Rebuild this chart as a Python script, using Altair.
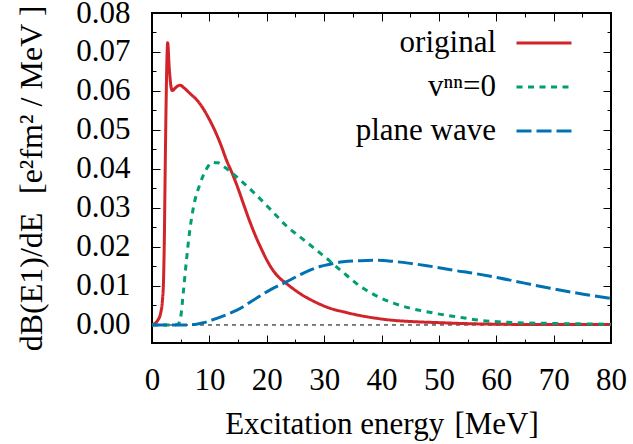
import altair as alt
import pandas as pd

# ---------------- data ----------------
series_names = ["original", "v\u207f\u207f=0", "plane wave"]

red_E = [0, 0.5, 1.0, 1.5, 1.8, 2.0, 2.15, 2.3, 2.45, 2.6, 2.73, 3.0, 3.3, 3.55, 4.0, 4.5,
         4.9, 5.5, 6.6, 8.0, 9.0, 10.0, 11.0, 12.0, 13.0, 14.0, 15.0, 16.0, 17.0, 18.0,
         19.0, 20.0, 21.1, 22.2, 23.2, 24.5, 26.4, 27.5, 29.3, 31.0, 33.3, 36.0, 39.2,
         42.0, 45.0, 50.0, 53.7, 60.0, 70.0, 80.0]
red_v = [0.0, 0.0004, 0.0012, 0.003, 0.006, 0.011, 0.022, 0.040, 0.056, 0.068, 0.0724,
         0.066, 0.0612, 0.0601, 0.0607, 0.0613, 0.0615, 0.0609, 0.0594, 0.0574, 0.0553,
         0.0527, 0.0497, 0.0462, 0.0422, 0.0388, 0.0350, 0.0308, 0.0267, 0.0230, 0.0197,
         0.0167, 0.0140, 0.0121, 0.0109, 0.0094, 0.0075, 0.0066, 0.0053, 0.0043, 0.0034,
         0.0025, 0.0017, 0.0012, 0.0009, 0.0006, 0.0004, 0.0002, 0.0001, 0.0001]

green_E = [0, 4.0, 4.6, 5.0, 5.5, 6.0, 6.6, 7.2, 8.4, 9.5, 10.5, 11.5, 12.5, 13.6, 15.5,
           17.7, 20.6, 23.5, 26.4, 29.0, 31.0, 32.0, 33.3, 36.3, 39.2, 42.1, 45.0, 47.9,
           50.8, 53.1, 57.2, 63.6, 69.4, 80.0]
green_v = [0, 0, 0.0003, 0.002, 0.009, 0.0165, 0.0244, 0.0300, 0.0363, 0.0400, 0.0417,
           0.0416, 0.0406, 0.0394, 0.0370, 0.0340, 0.0297, 0.0253, 0.0219, 0.0188, 0.0164,
           0.0151, 0.0135, 0.0099, 0.0074, 0.0056, 0.0043, 0.0034, 0.0026, 0.0021, 0.0012,
           0.0006, 0.0004, 0.0002]

blue_E = [0, 5, 7.2, 9, 11.3, 13.6, 14.8, 17.7, 20.6, 23.5, 26.4, 29.3, 30.4, 33.3, 36.3,
          39.2, 42.1, 45.0, 47.9, 50.8, 53.1, 55.4, 60.1, 64.7, 69.4, 75.2, 80.0]
blue_v = [0, 0, 0.0001, 0.0006, 0.0017, 0.0030, 0.0038, 0.0064, 0.0090, 0.0111, 0.0133,
          0.0150, 0.0154, 0.0162, 0.0165, 0.0166, 0.0163, 0.0158, 0.0152, 0.0145, 0.0139,
          0.0134, 0.0122, 0.0108, 0.0094, 0.0079, 0.0068]

zero_E = [0, 80]
zero_v = [0, 0]

x_major = [0, 10, 20, 30, 40, 50, 60, 70, 80]
x_minor = [5, 15, 25, 35, 45, 55, 65, 75]
y_major = [0.00, 0.01, 0.02, 0.03, 0.04, 0.05, 0.06, 0.07, 0.08]
y_minor = [0.005, 0.015, 0.025, 0.035, 0.045, 0.055, 0.065, 0.075]

colors = ["#d1232a", "#009e73", "#0072b2"]
dashes = [[1, 0], [6, 5.5], [15, 5]]

# ---------------- tables ----------------
rows = []
for name, es, vs in zip(series_names, [red_E, green_E, blue_E], [red_v, green_v, blue_v]):
    for e, v in zip(es, vs):
        rows.append({"E": e, "v": v, "series": name})
df = pd.DataFrame(rows)
zero_df = pd.DataFrame({"E": zero_E, "v": zero_v})

W, H = 459, 330
FONT = "Liberation Serif"
FS = 31
xscale = alt.Scale(domain=[0, 80], nice=False, zero=False)
yscale = alt.Scale(domain=[-0.00462, 0.08], nice=False, zero=False)

x_title = "Excitation energy\u2004[MeV]"
y_title = "dB(E1)/dE\u2004 [e\u00b2fm\u00b2 / MeV ]"


def tick_axis(orient, values, size, offset):
    return alt.Axis(orient=orient, values=values, tickSize=size, offset=offset,
                    labels=False, domain=False, grid=False, title=None,
                    ticks=True, tickColor="black", tickWidth=1)


# zero dashed line + label/title axes
zero_layer = alt.Chart(zero_df).mark_line(
    color="black", strokeWidth=1, strokeDash=[4, 4]
).encode(
    x=alt.X("E:Q", scale=xscale, axis=alt.Axis(
        orient="bottom", values=x_major, ticks=False, tickSize=0, domain=False, grid=False,
        labelFlush=False, labelOverlap=False,
        labelFont=FONT, labelFontSize=FS, labelColor="black", labelPadding=22,
        title=x_title, titleFont=FONT, titleFontSize=FS, titleFontWeight="normal",
        titleColor="black", titleBaseline="alphabetic", titleY=90)),
    y=alt.Y("v:Q", scale=yscale, axis=alt.Axis(
        orient="left", values=y_major, format=".2f", ticks=False, tickSize=0,
        domain=False, grid=False, labelFlush=False, labelOverlap=False,
        labelFont=FONT, labelFontSize=FS, labelColor="black", labelPadding=22,
        title=y_title, titleFont=FONT, titleFontSize=32, titleFontWeight="normal",
        titleColor="black", titleBaseline="alphabetic", titleX=-111)),
)

legend = alt.Legend(title=None, orient="none", legendX=363, legendY=1,
                    symbolType="stroke", symbolSize=3025, symbolStrokeWidth=3,
                    labelFont=FONT, labelFontSize=FS, labelColor="black",
                    labelAlign="right", labelOffset={"expr": "-77"}, labelLimit=400,
                    rowPadding=0, padding=0)

lines = alt.Chart(df).mark_line(strokeWidth=3, interpolate="monotone").encode(
    x=alt.X("E:Q", scale=xscale, axis=tick_axis("top", x_major, 8, -H)),
    y=alt.Y("v:Q", scale=yscale, axis=tick_axis("right", y_major, 8, -W)),
    color=alt.Color("series:N", scale=alt.Scale(domain=series_names, range=colors),
                    legend=legend),
    strokeDash=alt.StrokeDash("series:N", scale=alt.Scale(domain=series_names, range=dashes),
                              legend=legend),
    detail="series:N",
)


def ghost(xax, yax):
    return alt.Chart(zero_df).mark_line(strokeOpacity=0, opacity=0).encode(
        x=alt.X("E:Q", scale=xscale, axis=xax),
        y=alt.Y("v:Q", scale=yscale, axis=yax),
    )


g1 = ghost(tick_axis("top", x_minor, 4, -H), tick_axis("right", y_minor, 4, -W))
g2 = ghost(tick_axis("bottom", x_major, 8, -H), tick_axis("left", y_major, 8, -W))
g3 = ghost(tick_axis("bottom", x_minor, 4, -H), tick_axis("left", y_minor, 4, -W))

chart = alt.layer(zero_layer, lines, g1, g2, g3).resolve_axis(
    x="independent", y="independent"
).properties(
    width=W, height=H,
    autosize=alt.AutoSizeParams(type="none"),
    padding={"left": 152, "top": 13, "right": 22, "bottom": 101},
    background="white",
).configure_view(stroke="black", strokeWidth=2)

chart.save("out.html", embed_options={"renderer": "svg", "actions": False})
